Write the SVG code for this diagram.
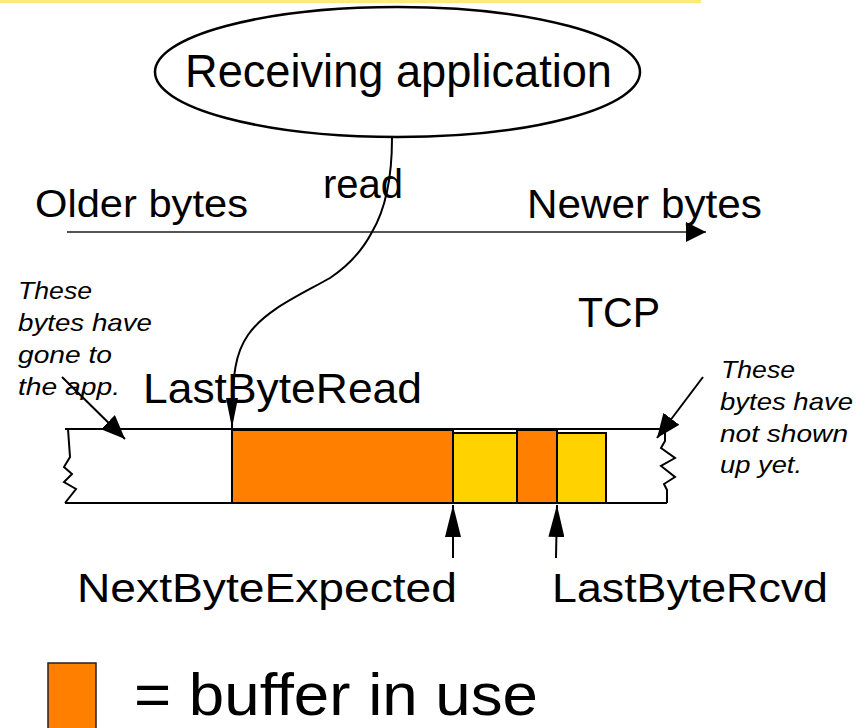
<svg xmlns="http://www.w3.org/2000/svg" width="865" height="728" viewBox="0 0 865 728">
  <style>
    .t { font-family: "Liberation Sans", Arial, sans-serif; fill: #000; }
    .it { font-family: "Liberation Sans", Arial, sans-serif; font-style: italic; fill: #000; font-size: 24px; }
    .edge { fill: none; stroke: #000; stroke-width: 2; }
    .buf { fill: #FF7F00; stroke: #000; stroke-width: 2; }
    .free { fill: #FFD200; stroke: #000; stroke-width: 2; }
  </style>
  <defs>
    <marker id="headRead" markerUnits="userSpaceOnUse" viewBox="0 0 30 12" refX="30" refY="6" markerWidth="30" markerHeight="12" orient="auto">
      <path d="M0,0 L30,6 L0,12 z" fill="#000"/>
    </marker>
    <marker id="headAxis" markerUnits="userSpaceOnUse" viewBox="0 0 20 20" refX="20" refY="10" markerWidth="20" markerHeight="20" orient="auto">
      <path d="M0,0 L20,10 L0,20 z" fill="#000"/>
    </marker>
    <marker id="headPtr" markerUnits="userSpaceOnUse" viewBox="0 0 32 16" refX="32" refY="8" markerWidth="32" markerHeight="16" orient="auto">
      <path d="M0,0 L32,8 L0,16 z" fill="#000"/>
    </marker>
    <marker id="headNote" markerUnits="userSpaceOnUse" viewBox="0 0 24 20" refX="24" refY="10" markerWidth="24" markerHeight="20" orient="auto">
      <path d="M0,0 L24,10 L0,20 z" fill="#000"/>
    </marker>
  </defs>

  <!-- header rule -->
  <rect x="0" y="0" width="701" height="3" fill="#FFE87C"/>

  <!-- application -->
  <g id="app">
    <ellipse cx="397.5" cy="72" rx="242.5" ry="65" fill="#fff" stroke="#000" stroke-width="2.5"/>
    <text class="t" x="185" y="87" font-size="46" textLength="427" lengthAdjust="spacingAndGlyphs">Receiving application</text>
  </g>

  <!-- byte order axis -->
  <g id="axis">
    <text class="t" x="35" y="217" font-size="39" textLength="213" lengthAdjust="spacingAndGlyphs">Older bytes</text>
    <text class="t" x="527" y="218" font-size="40" textLength="235" lengthAdjust="spacingAndGlyphs">Newer bytes</text>
  </g>

  <g id="tcp">
    <text class="t" x="578" y="327" font-size="42" textLength="82" lengthAdjust="spacingAndGlyphs">TCP</text>
  </g>

  <!-- receive buffer -->
  <g id="buffer">
    <rect class="buf" x="232" y="430" width="221" height="73"/>
    <rect class="free" x="453" y="433" width="64" height="70"/>
    <rect class="buf" x="517" y="430" width="40" height="73"/>
    <rect class="free" x="557" y="433" width="49" height="70"/>
    <path class="edge" stroke-width="2.5" d="M65,429 H667"/>
    <path class="edge" stroke-width="2.5" d="M65,503 H667"/>
    <path class="edge" d="M68,429 L70,457 L64,467 L72,474 L64,482 L76,489 L65,503"/>
    <path class="edge" d="M665,429 L665,441 L661,448 L675,458 L661,466 L675,477 L664,484 L667,490 L667,503"/>
  </g>

  <g id="labels">
    <text class="t" x="143" y="403" font-size="42" textLength="279" lengthAdjust="spacingAndGlyphs">LastByteRead</text>
    <text class="t" x="77" y="602" font-size="41" textLength="380" lengthAdjust="spacingAndGlyphs">NextByteExpected</text>
    <text class="t" x="552" y="602" font-size="41" textLength="276" lengthAdjust="spacingAndGlyphs">LastByteRcvd</text>
  </g>

  <g id="note-left">
    <text class="it" x="18" y="299" textLength="74" lengthAdjust="spacingAndGlyphs">These</text>
    <text class="it" x="18" y="331" textLength="134" lengthAdjust="spacingAndGlyphs">bytes have</text>
    <text class="it" x="18" y="363" textLength="94" lengthAdjust="spacingAndGlyphs">gone to</text>
    <text class="it" x="18" y="395" textLength="102" lengthAdjust="spacingAndGlyphs">the app.</text>
  </g>

  <g id="note-right">
    <text class="it" x="721" y="378" textLength="74" lengthAdjust="spacingAndGlyphs">These</text>
    <text class="it" x="720" y="410" textLength="133" lengthAdjust="spacingAndGlyphs">bytes have</text>
    <text class="it" x="720" y="442" textLength="128" lengthAdjust="spacingAndGlyphs">not shown</text>
    <text class="it" x="720" y="473" textLength="82" lengthAdjust="spacingAndGlyphs">up yet.</text>
  </g>

  <!-- connectors -->
  <g id="connectors">
    <path d="M67,232 H706" fill="none" stroke="#555" stroke-width="2" marker-end="url(#headAxis)"/>
    <path class="edge" d="M392,138 C392,170 388,205 372,232 C360,255 345,268 330,278 C300,295 265,310 248,335 C236,352 232,372 232,428" marker-end="url(#headRead)"/>
    <text class="t" x="323" y="198" font-size="40" textLength="80" lengthAdjust="spacingAndGlyphs">read</text>
    <path class="edge" d="M62,377 L125,439" marker-end="url(#headNote)"/>
    <path class="edge" d="M703,377 L657,438" marker-end="url(#headNote)"/>
    <path class="edge" d="M453,558 L453,505" marker-end="url(#headPtr)"/>
    <path class="edge" d="M556,558 L557,505" marker-end="url(#headPtr)"/>
  </g>

  <!-- legend -->
  <g id="legend">
    <rect x="48" y="663" width="48" height="66" fill="#FF7F00" stroke="#222" stroke-width="1.5"/>
    <text class="t" x="134" y="715" font-size="60" textLength="404" lengthAdjust="spacingAndGlyphs">= buffer in use</text>
  </g>
</svg>
